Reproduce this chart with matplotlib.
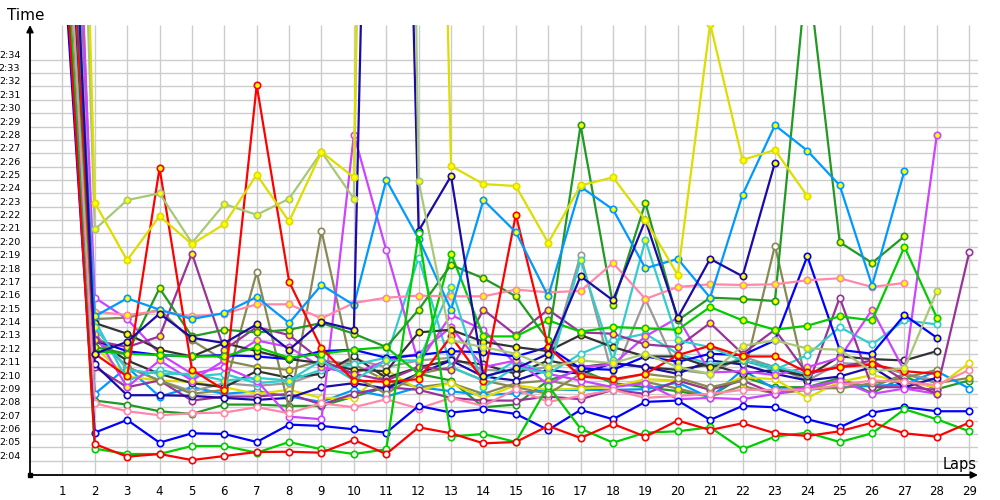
import numpy as np
import matplotlib
matplotlib.use("Agg")
import matplotlib.pyplot as plt

# lap times in seconds (124.0 == 2:04), lap 1 is off the top of the chart
laps = list(range(1, 30))
nan = np.nan

red_w = [165, 125.25, 124.3, 124.5, 124.05, 124.35, 124.65, 124.67, 124.6, 125.55, 124.5, 126.5, 126.05, 125.3, 125.4,
         126.6, 125.7, 126.75, 125.8, 127.0, 126.3, 126.8, 126.05, 125.85, 126.2, 126.85, 126.05, 125.8, 126.85]
green_w = [168, 124.9, 124.5, 124.5, 125.1, 125.1, 124.6, 125.4, 124.85, 124.5, 124.85, 141.0, 125.8, 126.0, 125.4,
           129.6, 126.4, 125.35, 126.1, 126.2, 126.5, 124.85, 125.8, 126.1, 125.4, 126.05, 127.85, 127.1, 126.2]
blue_w = [163, 126.1, 127.05, 125.35, 126.05, 126.0, 125.4, 126.7, 126.6, 126.35, 126.1, 128.1, 127.6, 127.85, 127.5,
          126.3, 127.8, 127.1, 128.4, 128.5, 127.05, 128.1, 128.0, 127.1, 126.5, 127.6, 128.0, 127.7, 127.7]
pink_w = [172, 128.3, 127.7, 127.4, 127.55, 127.6, 128.0, 127.55, 128.3, 128.0, 128.6, 127.9, 128.7, 128.1, 129.35,
          128.4, 128.85, 129.3, 128.7, 128.85, 129.0, 129.3, 129.3, 129.3, 129.65, 130.0, 129.9, 129.65, 130.8]
red_y = [178, 132.0, 130.3, 145.9, 130.8, 129.3, 152.1, 137.4, 132.4, 130.0, 129.9, 130.1, 133.3, 130.0, 142.4,
         132.5, 130.3, 130.1, 130.5, 131.9, 132.6, 131.8, 131.8, 130.6, 131.0, 131.2, 130.7, 130.5, nan]
yellow_y = [233, 143.3, 139.0, 142.3, 140.2, 141.7, 145.4, 141.9, 147.1, 145.2, 300, 252, 146.05, 144.7, 144.55,
            140.3, 144.6, 145.2, 142.0, 137.9, 156.7, 146.5, 147.25, 143.8, nan, nan, nan, nan, nan]
lolive_y = [215, 141.3, 143.5, 144.0, 140.3, 143.2, 142.4, 143.6, 147.1, 143.6, 300, 144.9, 133.0, 132.5, 132.0,
            131.0, 131.5, 131.3, 132.0, 131.0, 130.5, 132.6, 133.0, 132.4, 132.3, 130.7, 130.9, 136.7, nan]
dblue_y = [185, 132.0, 132.9, 135.0, 133.2, 132.8, 134.2, 132.3, 134.4, 133.8, 240, 141.2, 145.3, 130.3, 130.9,
           132.0, 137.8, 136.0, 142.0, 134.7, 139.1, 137.8, 146.3, nan, nan, nan, nan, nan, nan]
sky_y = [180, 134.8, 136.15, 135.3, 134.6, 135.05, 136.25, 134.3, 137.15, 135.65, 145.0, 140.6, 135.3, 143.5, 141.1,
         136.3, 144.5, 142.8, 138.4, 139.1, 136.2, 143.9, 149.1, 147.2, 144.6, 137.1, 145.7, nan, nan]
fgreen_y = [176, 132.5, 132.0, 136.9, 133.3, 133.8, 133.6, 133.8, 134.3, 133.5, 132.5, 135.3, 138.65, 137.65, 136.3,
            133.0, 149.1, 135.65, 143.3, 134.5, 136.2, 136.1, 135.95, 161.0, 140.35, 138.8, 140.8, nan, nan]
bgreen_y = [170, 132.2, 132.0, 131.9, 131.8, 131.8, 132.5, 131.7, 132.0, 132.3, 132.5, 130.5, 139.5, 133.3, 133.3,
            134.5, 133.65, 134.0, 133.9, 133.8, 135.5, 134.5, 133.8, 134.1, 134.8, 134.5, 140.0, 134.7, nan]
olive_w = [190, 133.3, 131.0, 130.0, 129.0, 129.3, 138.1, 127.9, 141.2, 130.3, 129.0, 130.5, 131.0, 130.0, 129.5,
           129.0, 130.5, 130.0, 130.5, 130.2, 129.5, 130.0, 140.1, 129.5, 129.4, 129.8, 130.2, 130.8, nan]
olive_y = [188, 134.6, 134.7, 135.3, 133.0, 131.5, 131.0, 130.8, 131.5, 131.2, 130.0, 129.5, 129.8, 129.0, 129.8,
           130.0, 129.5, 129.6, 129.9, 129.4, 128.8, 129.6, 129.0, 129.3, 130.0, 129.5, 130.5, 129.8, 130.2]
purple_y = [182, 133.0, 132.5, 133.3, 139.5, 132.3, 134.0, 133.4, 131.5, 130.5, 130.0, 131.0, 130.8, 135.3, 133.4,
            135.3, 133.6, 133.5, 132.7, 132.5, 134.3, 132.0, 133.8, 130.5, 131.0, 131.5, 130.0, 129.0, nan]
purple_w = [174, 131.0, 129.5, 130.0, 128.5, 128.8, 128.8, 129.0, 128.2, 129.0, 129.5, 129.3, 128.7, 128.5, 128.5,
            128.8, 128.6, 129.3, 129.0, 130.0, 129.3, 130.0, 129.0, 129.5, 136.2, 129.5, 129.5, 129.3, 139.6]
violet_w = [195, 136.2, 134.6, 132.0, 130.5, 131.0, 130.0, 127.3, 127.1, 148.4, 139.75, 131.3, 134.9, 133.8, 131.2,
            130.5, 130.0, 129.5, 129.8, 128.6, 128.7, 128.6, 129.0, 129.5, 130.0, 129.0, 129.4, 129.0, nan]
violet_y = [200, 133.5, 129.5, 131.5, 130.0, 131.5, 133.0, 132.5, 131.0, 130.5, 131.5, 132.0, 134.0, 131.0, 131.5,
            129.7, 131.0, 131.2, 133.3, 134.7, 130.6, 130.7, 130.4, 131.0, 131.7, 135.3, 130.7, 148.4, nan]
dgray_y = [179, 134.3, 133.5, 132.3, 131.8, 132.8, 132.2, 131.6, 131.3, 130.8, 130.7, 133.6, 133.8, 132.9, 132.5,
           132.2, 133.4, 132.5, 131.8, 131.8, 131.0, 131.5, 131.0, 130.3, nan, nan, nan, nan, nan]
dgray_w = [186, 133.0, 131.5, 130.5, 129.8, 129.5, 130.7, 130.2, 130.5, 131.8, 130.2, 131.0, 131.5, 131.2, 130.5,
           131.5, 131.0, 131.3, 131.0, 130.8, 131.2, 130.5, 130.8, 130.3, 131.8, 131.6, 131.5, 132.2, nan]
gray_w = [192, 133.5, 131.0, 130.0, 129.2, 129.8, 129.6, 129.8, 130.6, 131.6, 131.0, 131.5, 131.7, 130.8, 130.7,
          131.0, 139.4, 130.2, 136.1, 130.8, 130.5, 131.8, 131.0, 130.0, 131.3, 131.2, 130.5, 130.0, nan]
cyan_w = [177, 134.5, 130.0, 130.8, 130.3, 130.5, 129.8, 130.0, 130.8, 131.2, 131.7, 139.2, 131.0, 130.0, 131.5,
          130.5, 132.0, 133.0, 133.5, 132.0, 131.2, 131.5, 130.8, 131.9, 134.0, 132.7, 134.5, 134.2, nan]
cyan_y = [184, 134.0, 130.8, 130.5, 130.5, 130.0, 130.2, 130.0, 131.5, 130.0, 131.5, 131.5, 137.0, 129.5, 131.0,
          130.5, 139.0, 131.5, 140.5, 133.0, 132.5, 131.5, 131.0, 130.5, nan, nan, nan, nan, nan]
sky_w = [166, 129.0, 131.0, 128.8, 129.5, 129.0, 129.2, 128.8, 128.4, 129.3, 128.8, 129.5, 129.2, 128.9, 129.05,
         129.3, 129.3, 129.3, 129.35, 129.85, 128.7, 130.8, 129.35, 129.3, 129.5, 129.6, 129.7, 130.7, 129.4]
fgreen_w = [171, 128.5, 128.2, 127.7, 127.5, 128.2, 128.2, 128.1, 128.1, 128.8, 129.5, 130.5, 130.0, 128.0, 128.2,
            130.0, 130.8, 129.8, 129.5, 129.2, 128.8, 130.3, 129.5, 129.5, 130.2, 129.05, 130.3, 129.35, 130.0]
pink_y = [181, 135.15, 134.9, 135.2, 134.8, 135.0, 135.7, 135.7, 134.65, 135.8, 136.2, 136.35, 136.3, 136.3, 136.8,
          136.6, 136.7, 138.8, 136.1, 137.0, 137.2, 137.15, 137.2, 137.5, 137.65, 137.0, 137.3, nan, nan]
blue_y = [173, 133.0, 132.2, 131.9, 131.8, 131.9, 131.8, 131.6, 132.2, 132.3, 131.7, 131.9, 132.2, 132.1, 131.8,
          132.5, 130.9, 130.8, 131.8, 131.4, 132.0, 131.9, 133.0, 139.3, 132.3, 132.0, 134.9, 133.2, nan]
yellow_w = [205, 132.5, 130.3, 130.0, 129.9, 129.5, 129.0, 129.3, 128.7, 128.7, 130.8, 129.3, 129.8, 128.7, 129.65,
            129.3, 129.4, 129.5, 130.1, 130.0, 129.3, 130.25, 130.1, 128.7, 129.9, 130.4, 129.9, 129.5, 131.3]
dblue_w = [175, 131.2, 128.9, 128.9, 128.85, 128.7, 128.55, 128.7, 129.5, 129.8, 129.4, 130.5, 131.5, 130.3, 130.0,
           130.8, 130.5, 131.3, 131.0, 130.5, 131.5, 131.2, 130.5, 130.0, 130.3, 131.0, 129.5, 130.2, nan]

time_ticks = list(range(124, 155))

YEL = "#ffff00"
WHT = "#ffffff"
series = [
    (fgreen_w, "#229922", WHT), (olive_y, "#888855", YEL), (sky_w, "#0099ff", WHT),
    (yellow_w, "#dddd00", WHT), (gray_w, "#999999", WHT), (dgray_w, "#333333", WHT),
    (purple_w, "#993399", WHT), (dblue_w, "#1a0aa8", WHT), (olive_w, "#888855", WHT),
    (cyan_w, "#33cccc", WHT), (violet_w, "#cc44ff", WHT), (violet_y, "#cc44ff", YEL),
    (blue_y, "#0000ff", YEL), (dgray_y, "#333333", YEL), (purple_y, "#993399", YEL),
    (cyan_y, "#33cccc", YEL), (bgreen_y, "#00cc00", YEL), (fgreen_y, "#229922", YEL),
    (pink_y, "#ff88aa", YEL), (pink_w, "#ff88aa", WHT), (red_y, "#ff0000", YEL),
    (sky_y, "#0099ff", YEL), (dblue_y, "#1a0aa8", YEL), (lolive_y, "#a8c878", YEL),
    (yellow_y, "#dddd00", YEL), (blue_w, "#0000ff", WHT), (green_w, "#00cc00", WHT),
    (red_w, "#ff0000", WHT),
]

fig = plt.figure(figsize=(10, 5), dpi=100)
ax = fig.add_axes([0.030, 0.05, 0.948, 0.90])
x0, x1 = 0.0, 29.27
y0, y1 = 122.93, 156.6
ax.set_xlim(x0, x1)
ax.set_ylim(y0, y1)

# grid
ax.hlines(time_ticks, x0, x1, color="#cccccc", lw=1, zorder=0)
ax.vlines(laps, y0, y1, color="#cccccc", lw=1, zorder=0)

for vals, col, face in series:
    ax.plot(laps, np.array(vals, dtype=float), "-o", color=col, lw=1.6,
            ms=4.6, mfc=face, mec=col, mew=1.2, zorder=3)

for s in ax.spines.values():
    s.set_visible(False)

ax.set_xticks(laps)
ax.set_xticklabels([str(l) for l in laps], fontsize=8.5)
ax.set_yticks(time_ticks)
ax.set_yticklabels(["%d:%02d" % (t // 60, t % 60) for t in time_ticks], fontsize=6.8)
for lab in ax.get_yticklabels():
    lab.set_verticalalignment("bottom")
ax.tick_params(axis="both", length=0)
ax.tick_params(axis="x", pad=7)
ax.tick_params(axis="y", pad=7)

# axis arrows
ax.annotate("", xy=(0, 1.0), xytext=(0, 0), xycoords="axes fraction",
            arrowprops=dict(arrowstyle="-|>", color="black", lw=1.3, mutation_scale=10,
                            shrinkA=0, shrinkB=0), annotation_clip=False)
ax.annotate("", xy=(1.0, 0), xytext=(0, 0), xycoords="axes fraction",
            arrowprops=dict(arrowstyle="-|>", color="black", lw=1.3, mutation_scale=10,
                            shrinkA=0, shrinkB=0), annotation_clip=False)
ax.plot([0], [0], marker="s", color="black", ms=3.5, transform=ax.transAxes, clip_on=False, zorder=5)

fig.text(0.007, 0.97, "Time", fontsize=11, va="center", ha="left")
fig.text(0.943, 0.072, "Laps", fontsize=10.5, va="center", ha="left")

fig.savefig("out.png", dpi=100)
